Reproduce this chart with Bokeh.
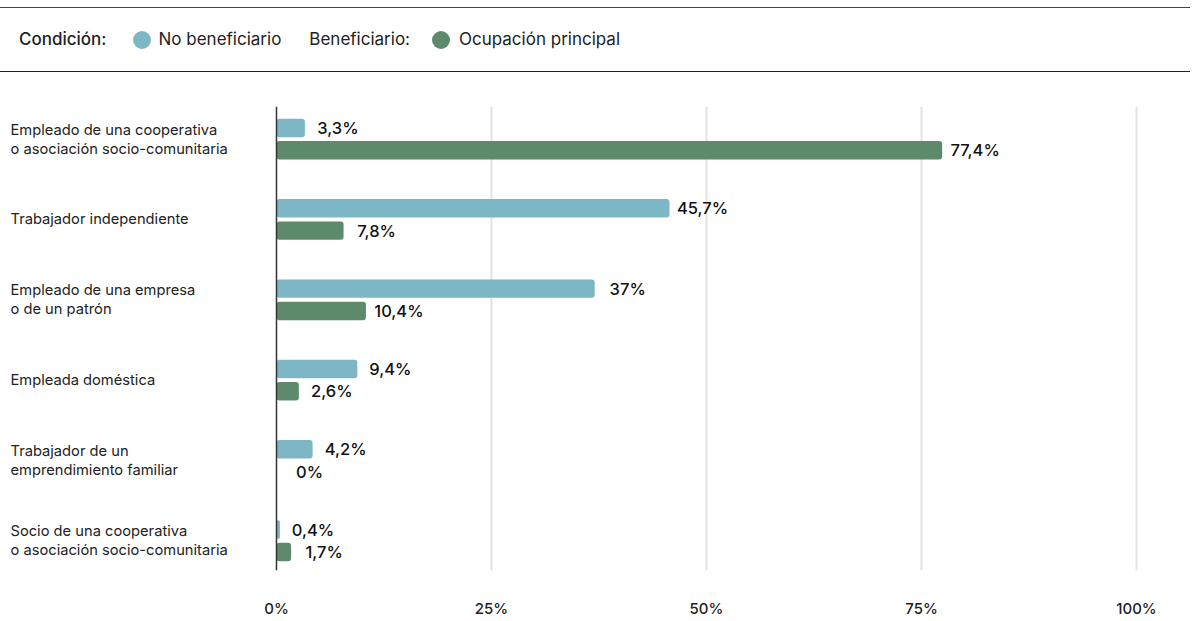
from bokeh.plotting import figure
from bokeh.models import ColumnDataSource, Range1d, FixedTicker, PrintfTickFormatter, Span, Div
from bokeh.layouts import column
from bokeh.transform import dodge
from bokeh.core.properties import value
from bokeh.embed import file_html
from bokeh.resources import INLINE

# ---- data ----
categories = [
    "Empleado de una cooperativa\no asociación socio-comunitaria",
    "Trabajador independiente",
    "Empleado de una empresa\no de un patrón",
    "Empleada doméstica",
    "Trabajador de un\nemprendimiento familiar",
    "Socio de una cooperativa\no asociación socio-comunitaria",
]
no_beneficiario = [3.3, 45.7, 37, 9.4, 4.2, 0.4]
ocupacion_principal = [77.4, 7.8, 10.4, 2.6, 0, 1.7]
series_names = ["No beneficiario", "Ocupación principal"]
x_ticks = [0, 25, 50, 75, 100]

BLUE = "#7DB6C5"
GREEN = "#5E8A6C"
FONT = "Inter"
FONT_MED = "Inter Medium, Inter"

def fmt(v):
    if float(v).is_integer():
        return f"{int(v)}%"
    return f"{v:.1f}".replace(".", ",") + "%"

# ---- layout constants ----
W = 1190
PX_PER_UNIT = 8.6
ZERO_PX = 276  # zero position from frame left
x_start = -ZERO_PX / PX_PER_UNIT
x_end = x_start + W / PX_PER_UNIT

idx = list(range(len(categories)))
src = ColumnDataSource(dict(
    y=idx,
    cat=categories,
    nb=no_beneficiario,
    op=ocupacion_principal,
    nb_t=[fmt(v) for v in no_beneficiario],
    op_t=[fmt(v) for v in ocupacion_principal],
    lx=[x_start + 10 / PX_PER_UNIT] * len(idx),
))

header_html = f"""
<div style="box-sizing:border-box;width:{W}px;height:72px;padding-top:7px;">
<div style="box-sizing:border-box;width:{W}px;height:65px;border-top:1.5px solid #444;border-bottom:1.5px solid #222;
display:flex;align-items:center;font-family:{FONT};font-size:17px;color:#222;padding-left:19px;">
<span style="font-weight:500;">Condición:</span>
<span style="display:inline-block;flex:none;width:18px;height:18px;border-radius:50%;background:{BLUE};margin-left:26px;margin-right:8px;"></span>
<span>{series_names[0]}</span>
<span style="margin-left:28px;">Beneficiario:</span>
<span style="display:inline-block;flex:none;width:18px;height:18px;border-radius:50%;background:{GREEN};margin-left:22px;margin-right:9px;"></span>
<span>{series_names[1]}</span>
</div></div>
"""
header = Div(text=header_html, width=W, height=72, margin=(0, 0, 0, 0))

n = len(categories)
p = figure(width=W, height=548, output_backend="svg", toolbar_location=None,
           x_range=Range1d(x_start, x_end),
           y_range=Range1d(n - 1 + 0.37, -0.406),
           y_axis_location=None,
           min_border_left=0, min_border_right=0, min_border_top=34, min_border_bottom=37,
           outline_line_color=None, margin=(0, 0, 0, 0))

bar_h = 0.23
off = 0.139
p.hbar(y=dodge("y", -off), left=0, right="nb", height=bar_h, source=src,
       fill_color=BLUE, line_color=None, border_radius=3)
p.hbar(y=dodge("y", off), left=0, right="op", height=bar_h, source=src,
       fill_color=GREEN, line_color=None, border_radius=3)

p.text(x="nb", y=dodge("y", -off), text="nb_t", source=src, x_offset=33,
       text_align="center", text_baseline="middle", text_font=value(FONT_MED),
       text_font_size="16.5px", text_color="#111")
p.text(x="op", y=dodge("y", off), text="op_t", source=src, x_offset=33,
       text_align="center", text_baseline="middle", text_font=value(FONT_MED),
       text_font_size="16.5px", text_color="#111")

p.text(x="lx", y="y", text="cat", source=src, text_align="left", text_baseline="middle",
       text_font=value(FONT), text_font_size="14.7px", text_color="#222", text_line_height=1.05)

p.add_layout(Span(location=0, dimension="height", line_color="#333", line_width=1.5))

p.xgrid.ticker = FixedTicker(ticks=x_ticks[1:])
p.xgrid.grid_line_color = "#e2e2e2"
p.xgrid.grid_line_width = 2
p.ygrid.visible = False

p.xaxis.ticker = FixedTicker(ticks=x_ticks)
p.xaxis.formatter = PrintfTickFormatter(format="%d%%")
p.xaxis.axis_line_color = None
p.xaxis.major_tick_line_color = None
p.xaxis.minor_tick_line_color = None
p.xaxis.major_label_standoff = 22
p.xaxis.major_label_text_font = FONT_MED
p.xaxis.major_label_text_font_size = "15px"
p.xaxis.major_label_text_font_style = "normal"
p.xaxis.major_label_text_color = "#222"

layout = column(header, p, spacing=0)
open("out.html", "w").write(file_html(layout, INLINE))
